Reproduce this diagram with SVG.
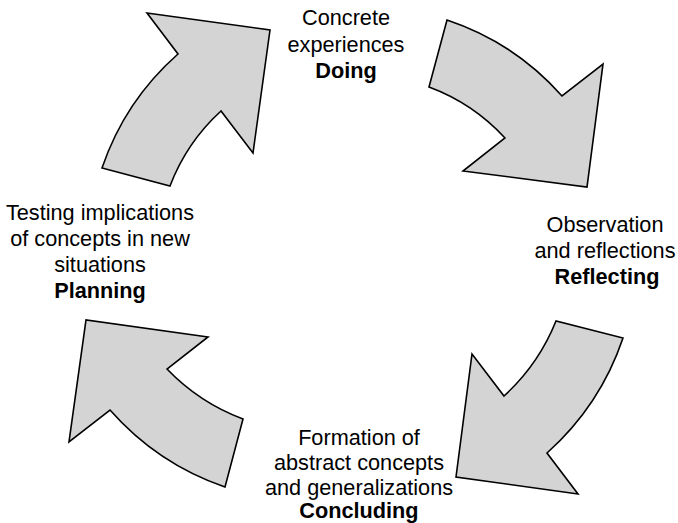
<svg xmlns="http://www.w3.org/2000/svg" width="678" height="523" viewBox="0 0 678 523">
<style>
.arrow{fill:#d4d4d4;stroke:#000;stroke-width:1.6;stroke-linejoin:miter}
text{font-family:"Liberation Sans",Arial,sans-serif;font-size:21.7px;fill:#000;text-anchor:middle}
.b{font-weight:bold}
</style>
<rect width="678" height="523" fill="#fff"/>
<g id="connectors">
<path class="arrow" d="M102,168 A266,266 0 0 1 178,54 L147,13 L270,30 L253,153 L221,111 A196,196 0 0 0 170,186 Z"/>
<path class="arrow" d="M447,20 A266,266 0 0 1 562,96 L603,64 L587,187 L463,171 L505,138 A196,196 0 0 0 429,87 Z"/>
<path class="arrow" d="M623,338 A270,270 0 0 1 547,453 L578,494 L456,477 L472,354 L504,396 A205,205 0 0 0 556,321 Z"/>
<path class="arrow" d="M243,419 A205,205 0 0 1 167,369 L208,337 L86,320 L69,442 L110,410 A270,270 0 0 0 225,487 Z"/>
</g>
<g id="doing"><text x="346" y="25">Concrete</text><text x="346" y="52">experiences</text><text class="b" x="346" y="78">Doing</text></g>
<g id="reflecting"><text x="605" y="232">Observation</text><text x="605" y="258">and reflections</text><text class="b" x="607" y="284">Reflecting</text></g>
<g id="concluding"><text x="359" y="445">Formation of</text><text x="359" y="470">abstract concepts</text><text x="359" y="495">and generalizations</text><text class="b" x="359" y="518">Concluding</text></g>
<g id="planning"><text x="100" y="220">Testing implications</text><text x="100" y="246">of concepts in new</text><text x="100" y="272">situations</text><text class="b" x="100" y="298">Planning</text></g>
</svg>
